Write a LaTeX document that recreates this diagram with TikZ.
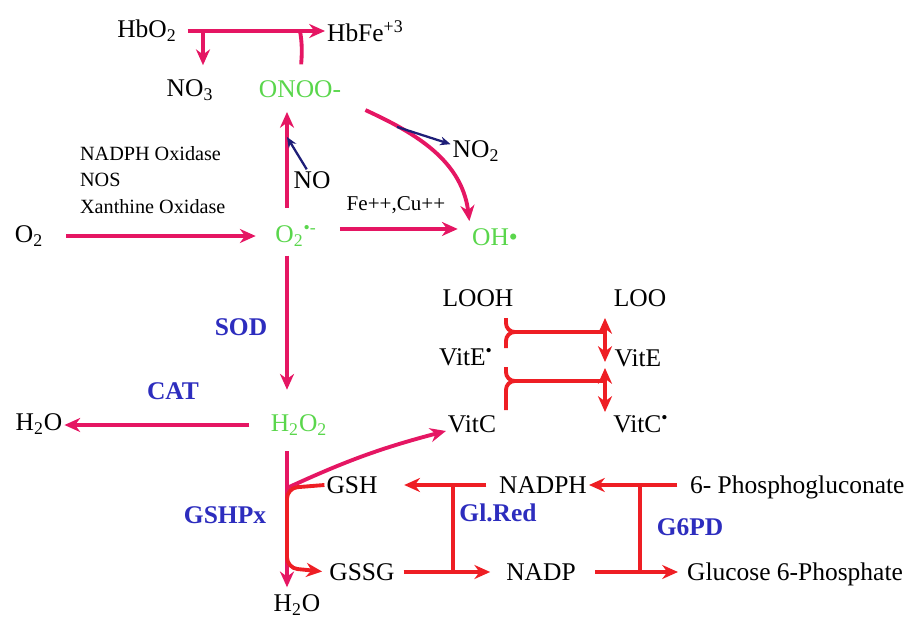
\documentclass[tikz,border=0pt]{standalone}
\usepackage{fontspec}
\setmainfont{Liberation Serif}
\usepackage{xcolor}
\usepackage{tikz}
\usetikzlibrary{arrows.meta}

\definecolor{pinkline}{RGB}{229,22,99}
\definecolor{redline}{RGB}{238,30,36}
\definecolor{radgreen}{RGB}{90,214,76}
\definecolor{enzblue}{RGB}{45,45,190}
\definecolor{navyline}{RGB}{30,30,120}

\newcommand{\mainfs}{\fontsize{14.5}{17}\selectfont}

\tikzset{
  chem/.style={inner sep=1pt, font=\mainfs},
  rad/.style={chem, text=radgreen},
  enz/.style={inner sep=1pt, text=enzblue, font=\mainfs\bfseries},
  pk/.style={draw=pinkline, line width=2.2pt},
  rd/.style={draw=redline, line width=2.2pt},
  nv/.style={draw=navyline, line width=1.3pt, >={Stealth[length=6pt,width=5pt]}},
}

\begin{document}
\begin{tikzpicture}[x=0.02cm, y=-0.02cm, >={Stealth[length=9pt,width=8pt]}]
        \useasboundingbox (0,0) rectangle (912,618);

        % Hemoglobin
        \node[chem] (hbo) at (147,31) {HbO\textsubscript{2}};
        \node[chem, anchor=west] (hbfe) at (325,31) {HbFe\textsuperscript{+3}};
        \node[chem] (no3) at (190,90) {NO\textsubscript{3}};
        \node[rad] (onoo) at (300,89) {ONOO-};

        % Superoxide
        \node[chem] (otwo) at (29,236) {O\textsubscript{2}};
        \node[rad] (sup) at (296,236) {O\textsubscript{2}\textsuperscript{\textbullet-}};
        \node[chem] (no) at (312,180) {NO};
        \node[rad] (oh) at (495,237) {OH\textbullet};
        \node[chem] (notwo) at (476,151) {NO\textsubscript{2}};
        \node[chem, anchor=west, align=left, font=\fontsize{11.5}{15.3}\selectfont] (ox) at (78,180) {NADPH Oxidase\\NOS\\Xanthine Oxidase};
        \node[chem, font=\fontsize{12}{14}\selectfont] (fecu) at (396,205) {Fe++,Cu++};

        % Peroxide
        \node[rad] (hoo) at (299,425) {H\textsubscript{2}O\textsubscript{2}};
        \node[chem] (wl) at (39,424) {H\textsubscript{2}O};
        \node[chem] (wb) at (297,605) {H\textsubscript{2}O};
        \node[enz] (sod) at (241,327) {SOD};
        \node[enz] (cat) at (173,391) {CAT};
        \node[enz] (gpx) at (225,515) {GSHPx};

        % Vitamins
        \node[chem] (looh) at (478,298) {LOOH};
        \node[chem] (loo) at (640,298) {LOO};
        \node[chem] (vitex) at (466,357) {VitE\textsuperscript{\textbullet}};
        \node[chem] (vite) at (638,358) {VitE};
        \node[chem] (vitc) at (472,424) {VitC};
        \node[chem] (vitcx) at (641,424) {VitC\textsuperscript{\textbullet}};

        % Glutathione and NADPH
        \node[chem] (gsh) at (352,485) {GSH};
        \node[chem] (gssg) at (362,572) {GSSG};
        \node[chem] (nadph) at (543,485) {NADPH};
        \node[chem] (nadp) at (541,572) {NADP};
        \node[chem, anchor=west] (pglu) at (688,487) {6- Phosphogluconate};
        \node[chem, anchor=west] (gsp) at (685,574) {Glucose 6-Phosphate};
        \node[enz] (glred) at (498,513) {Gl.Red};
        \node[enz] (gpd) at (690,527) {G6PD};

        % Junction points
        \coordinate (ax) at (287,0);
        \coordinate (j1) at (203,31);
        \coordinate (j2) at (300,31);
        \coordinate (j3) at (287,137);
        \coordinate (j5) at (287,488);
        \coordinate (j6) at (287,568);

        % Pink arrows
        \draw[pk,->,shorten <=5pt] (hbo) -- (hbfe);
        \draw[pk,->,shorten >=7pt] (j1) -- (j1 |- no3.north);
        \draw[pk,shorten <=8pt] ([xshift=1pt]onoo.north) to[out=92,in=-80] (j2);
        \draw[pk,->,shorten <=12pt,shorten >=10pt] (otwo.east) -- (otwo.east -| sup.west);
        \draw[pk,->,shorten <=9pt,shorten >=7pt] (sup.north -| ax) -- (onoo.south -| ax);
        \draw[pk,->,shorten <=12pt,shorten >=7pt] ([yshift=4pt]sup.east) -- ([yshift=4pt]sup.east -| oh.west);
        \draw[pk,->,shorten <=14pt,shorten >=3pt] (onoo.south east) to[out=-25,in=97] coordinate[pos=0.3] (j4) (oh.north west);
        \draw[pk,->,shorten <=4pt,shorten >=13pt] (sup.south -| ax) -- (hoo.north -| ax);
        \draw[pk,->,shorten <=11pt] (hoo.west) -- (hoo.west -| wl.east);
        \draw[pk,->,shorten <=8pt,shorten >=3pt] (hoo.south -| ax) -- (wb.north -| ax);
        \draw[pk,->] (j5) to[bend left=5] (vitc.195);

        % Navy arrows
        \draw[nv,->] ([xshift=-3pt]no.north) -- (j3);
        \draw[nv,->] (j4) -- (notwo.165);

        % Red arrows
        \draw[rd,->,rounded corners=6pt,shorten >=3pt] (gsh.west) -- (j5) -- (j6) -- (gssg.west);

        \coordinate (e1) at (506,318);
        \coordinate (e2) at (506,348);
        \coordinate (e3) at (605,332);
        \coordinate (e4) at (605,318);
        \coordinate (e5) at (605,362);
        \draw[rd,rounded corners=5pt] (e1) |- (e3);
        \draw[rd,rounded corners=5pt] (e2) |- (e3);
        \draw[rd,->] (e3) -- (e4);
        \draw[rd,->] (e3) -- (e5);

        \coordinate (f1) at (506,367);
        \coordinate (f2) at (506,410);
        \coordinate (f3) at (605,381);
        \coordinate (f4) at (605,368);
        \coordinate (f5) at (605,412);
        \draw[rd,rounded corners=5pt] (f1) |- (f3);
        \draw[rd,rounded corners=5pt] (f2) |- (f3);
        \draw[rd,->] (f3) -- (f4);
        \draw[rd,->] (f3) -- (f5);

        \coordinate (g1) at (453,485);
        \coordinate (g2) at (453,570);
        \draw[rd] (g1) -- (g2);
        \draw[rd,->,shorten <=6pt,shorten >=14pt] (nadph.west) -- (gsh.east);
        \draw[rd,->,shorten <=4pt,shorten >=8pt] (gssg.east) -- (gssg.east -| nadp.west);

        \coordinate (h1) at (640,485);
        \coordinate (h2) at (640,570);
        \draw[rd] (h1) -- (h2);
        \draw[rd,->,shorten <=6pt] (nadph.east -| pglu.west) -- (nadph.east);
        \draw[rd,->,shorten <=10pt,shorten >=4pt] (nadp.east) -- (nadp.east -| gsp.west);
    \end{tikzpicture}
\end{document}
